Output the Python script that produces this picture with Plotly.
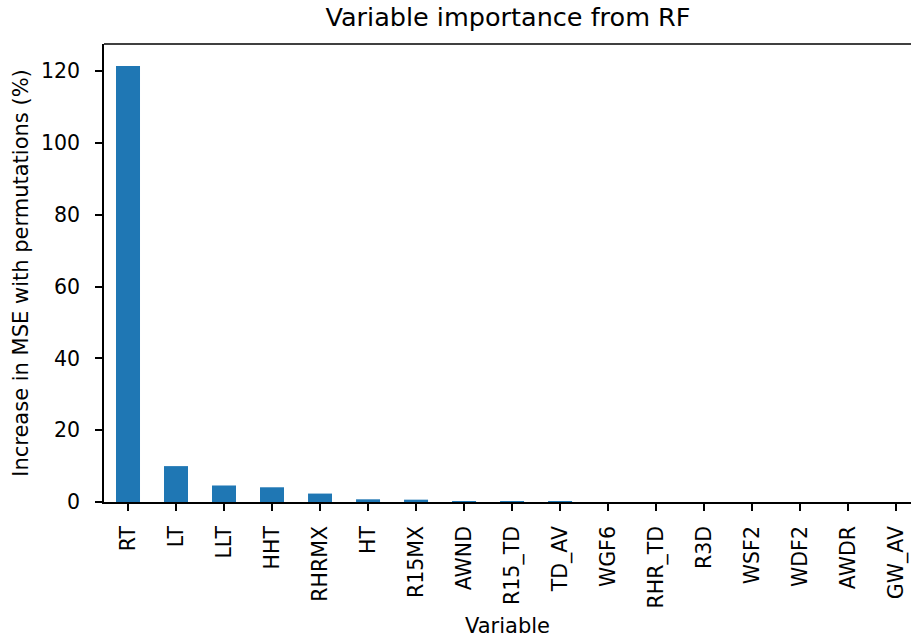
import plotly.graph_objects as go

variables = ["RT", "LT", "LLT", "HHT", "RHRMX", "HT", "R15MX", "AWND", "R15_TD",
             "TD_AV", "WGF6", "RHR_TD", "R3D", "WSF2", "WDF2", "AWDR", "GW_AV"]
importance = [121.5, 10.0, 4.6, 4.1, 2.35, 0.75, 0.65, 0.2, 0.15,
              0.15, 0.0, 0.0, 0.0, 0.0, 0.0, 0.0, 0.0]
y_ticks = [0, 20, 40, 60, 80, 100, 120]

font = "DejaVu Sans"
tick_size = 20.5
label_size = 21

fig = go.Figure(go.Bar(
    x=list(range(len(variables))),
    y=importance,
    width=0.5,
    marker=dict(color="#1f77b4", line=dict(width=0)),
))

# top spine of the axes box
fig.add_shape(type="line", xref="paper", yref="paper", x0=0, x1=1, y0=1, y1=1,
              line=dict(color="black", width=1.7))

fig.update_layout(
    width=912,
    height=638,
    margin=dict(l=104, r=1, t=44, b=136),
    paper_bgcolor="white",
    plot_bgcolor="white",
    showlegend=False,
    font=dict(family=font, size=tick_size, color="black"),
    title=dict(text="Variable importance from RF", x=0.557, xanchor="center",
               y=0.988, yanchor="top", font=dict(family=font, size=25.5, color="black")),
)

fig.update_xaxes(
    range=[-0.5, 16.31],
    tickmode="array",
    tickvals=list(range(len(variables))),
    ticktext=variables,
    tickangle=-90,
    ticks="outside", ticklen=7, tickwidth=1.7, tickcolor="black",
    showline=True, linecolor="black", linewidth=1.7, mirror=False,
    showgrid=False, zeroline=False,
    tickfont=dict(family=font, size=tick_size),
    ticklabelstandoff=7,
    title=dict(text="Variable", font=dict(family=font, size=label_size), standoff=15),
)

fig.update_yaxes(
    range=[0, 127.6],
    tickmode="array",
    tickvals=y_ticks,
    ticks="outside", ticklen=7, tickwidth=1.7, tickcolor="black",
    showline=True, linecolor="black", linewidth=1.7, mirror=False,
    showgrid=False, zeroline=False,
    tickfont=dict(family=font, size=tick_size),
    ticklabelstandoff=11,
    title=dict(text="Increase in MSE with permutations (%)",
               font=dict(family=font, size=label_size), standoff=7),
)

fig.write_html("out.html")
